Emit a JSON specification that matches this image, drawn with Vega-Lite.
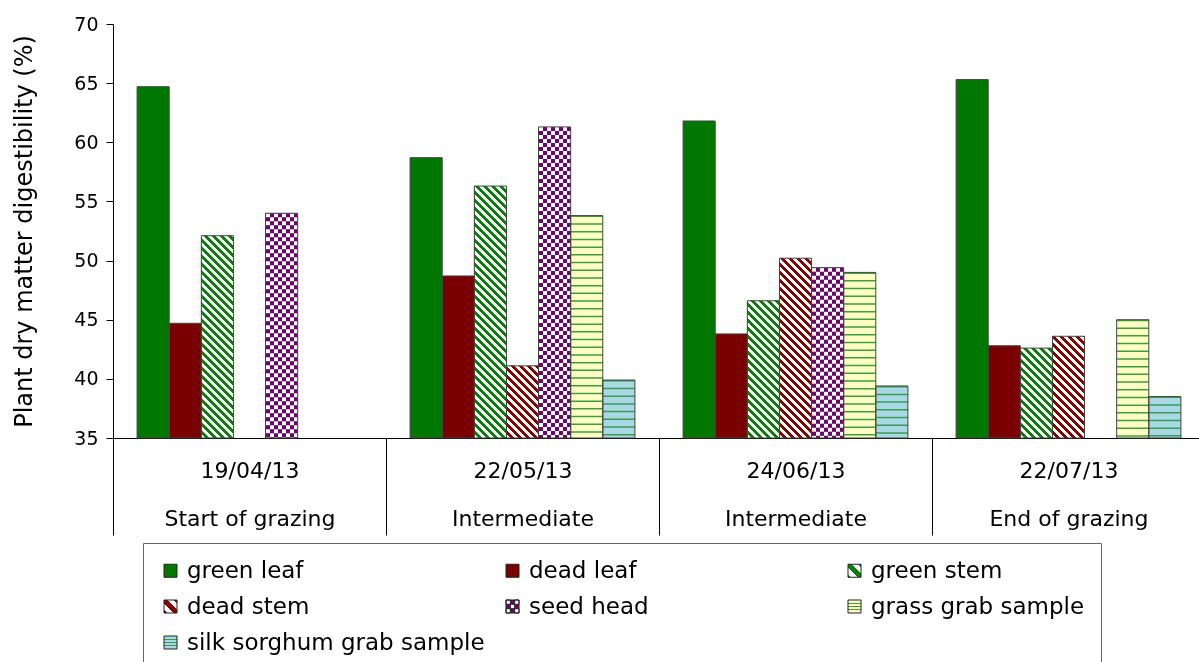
{
  "$schema": "https://vega.github.io/schema/vega-lite/v6.json",
  "width": 1086,
  "height": 414,
  "autosize": {"type": "none"},
  "padding": {"left": 113, "top": 24, "right": 0, "bottom": 224},
  "background": "#ffffff",
  "config": {"font": "DejaVu Sans", "view": {"stroke": null}, "axis": {"grid": false}},
  "params": [
    {"name": "dstops", "expr": "[{offset:0,color:'#fff'},{offset:4.5/288,color:'#fff'},{offset:4.5/288,color:'#000'},{offset:8/288,color:'#000'},{offset:8/288,color:'#fff'},{offset:12.5/288,color:'#fff'},{offset:12.5/288,color:'#000'},{offset:16/288,color:'#000'},{offset:16/288,color:'#fff'},{offset:20.5/288,color:'#fff'},{offset:20.5/288,color:'#000'},{offset:24/288,color:'#000'},{offset:24/288,color:'#fff'},{offset:28.5/288,color:'#fff'},{offset:28.5/288,color:'#000'},{offset:32/288,color:'#000'},{offset:32/288,color:'#fff'},{offset:36.5/288,color:'#fff'},{offset:36.5/288,color:'#000'},{offset:40/288,color:'#000'},{offset:40/288,color:'#fff'},{offset:44.5/288,color:'#fff'},{offset:44.5/288,color:'#000'},{offset:48/288,color:'#000'},{offset:48/288,color:'#fff'},{offset:52.5/288,color:'#fff'},{offset:52.5/288,color:'#000'},{offset:56/288,color:'#000'},{offset:56/288,color:'#fff'},{offset:60.5/288,color:'#fff'},{offset:60.5/288,color:'#000'},{offset:64/288,color:'#000'},{offset:64/288,color:'#fff'},{offset:68.5/288,color:'#fff'},{offset:68.5/288,color:'#000'},{offset:72/288,color:'#000'},{offset:72/288,color:'#fff'},{offset:76.5/288,color:'#fff'},{offset:76.5/288,color:'#000'},{offset:80/288,color:'#000'},{offset:80/288,color:'#fff'},{offset:84.5/288,color:'#fff'},{offset:84.5/288,color:'#000'},{offset:88/288,color:'#000'},{offset:88/288,color:'#fff'},{offset:92.5/288,color:'#fff'},{offset:92.5/288,color:'#000'},{offset:96/288,color:'#000'},{offset:96/288,color:'#fff'},{offset:100.5/288,color:'#fff'},{offset:100.5/288,color:'#000'},{offset:104/288,color:'#000'},{offset:104/288,color:'#fff'},{offset:108.5/288,color:'#fff'},{offset:108.5/288,color:'#000'},{offset:112/288,color:'#000'},{offset:112/288,color:'#fff'},{offset:116.5/288,color:'#fff'},{offset:116.5/288,color:'#000'},{offset:120/288,color:'#000'},{offset:120/288,color:'#fff'},{offset:124.5/288,color:'#fff'},{offset:124.5/288,color:'#000'},{offset:128/288,color:'#000'},{offset:128/288,color:'#fff'},{offset:132.5/288,color:'#fff'},{offset:132.5/288,color:'#000'},{offset:136/288,color:'#000'},{offset:136/288,color:'#fff'},{offset:140.5/288,color:'#fff'},{offset:140.5/288,color:'#000'},{offset:144/288,color:'#000'},{offset:144/288,color:'#fff'},{offset:148.5/288,color:'#fff'},{offset:148.5/288,color:'#000'},{offset:152/288,color:'#000'},{offset:152/288,color:'#fff'},{offset:156.5/288,color:'#fff'},{offset:156.5/288,color:'#000'},{offset:160/288,color:'#000'},{offset:160/288,color:'#fff'},{offset:164.5/288,color:'#fff'},{offset:164.5/288,color:'#000'},{offset:168/288,color:'#000'},{offset:168/288,color:'#fff'},{offset:172.5/288,color:'#fff'},{offset:172.5/288,color:'#000'},{offset:176/288,color:'#000'},{offset:176/288,color:'#fff'},{offset:180.5/288,color:'#fff'},{offset:180.5/288,color:'#000'},{offset:184/288,color:'#000'},{offset:184/288,color:'#fff'},{offset:188.5/288,color:'#fff'},{offset:188.5/288,color:'#000'},{offset:192/288,color:'#000'},{offset:192/288,color:'#fff'},{offset:196.5/288,color:'#fff'},{offset:196.5/288,color:'#000'},{offset:200/288,color:'#000'},{offset:200/288,color:'#fff'},{offset:204.5/288,color:'#fff'},{offset:204.5/288,color:'#000'},{offset:208/288,color:'#000'},{offset:208/288,color:'#fff'},{offset:212.5/288,color:'#fff'},{offset:212.5/288,color:'#000'},{offset:216/288,color:'#000'},{offset:216/288,color:'#fff'},{offset:220.5/288,color:'#fff'},{offset:220.5/288,color:'#000'},{offset:224/288,color:'#000'},{offset:224/288,color:'#fff'},{offset:228.5/288,color:'#fff'},{offset:228.5/288,color:'#000'},{offset:232/288,color:'#000'},{offset:232/288,color:'#fff'},{offset:236.5/288,color:'#fff'},{offset:236.5/288,color:'#000'},{offset:240/288,color:'#000'},{offset:240/288,color:'#fff'},{offset:244.5/288,color:'#fff'},{offset:244.5/288,color:'#000'},{offset:248/288,color:'#000'},{offset:248/288,color:'#fff'},{offset:252.5/288,color:'#fff'},{offset:252.5/288,color:'#000'},{offset:256/288,color:'#000'},{offset:256/288,color:'#fff'},{offset:260.5/288,color:'#fff'},{offset:260.5/288,color:'#000'},{offset:264/288,color:'#000'},{offset:264/288,color:'#fff'},{offset:268.5/288,color:'#fff'},{offset:268.5/288,color:'#000'},{offset:272/288,color:'#000'},{offset:272/288,color:'#fff'},{offset:276.5/288,color:'#fff'},{offset:276.5/288,color:'#000'},{offset:280/288,color:'#000'},{offset:280/288,color:'#fff'},{offset:284.5/288,color:'#fff'},{offset:284.5/288,color:'#000'},{offset:1,color:'#000'}]"}
  ],
  "data": {"values": [
    {"date": "19/04/13", "series": "green leaf", "value": 64.7},
    {"date": "19/04/13", "series": "dead leaf", "value": 44.7},
    {"date": "19/04/13", "series": "green stem", "value": 52.1},
    {"date": "19/04/13", "series": "seed head", "value": 54.0},
    {"date": "22/05/13", "series": "green leaf", "value": 58.7},
    {"date": "22/05/13", "series": "dead leaf", "value": 48.7},
    {"date": "22/05/13", "series": "green stem", "value": 56.3},
    {"date": "22/05/13", "series": "dead stem", "value": 41.1},
    {"date": "22/05/13", "series": "seed head", "value": 61.3},
    {"date": "22/05/13", "series": "grass grab sample", "value": 53.8},
    {"date": "22/05/13", "series": "silk sorghum grab sample", "value": 39.9},
    {"date": "24/06/13", "series": "green leaf", "value": 61.8},
    {"date": "24/06/13", "series": "dead leaf", "value": 43.8},
    {"date": "24/06/13", "series": "green stem", "value": 46.6},
    {"date": "24/06/13", "series": "dead stem", "value": 50.2},
    {"date": "24/06/13", "series": "seed head", "value": 49.4},
    {"date": "24/06/13", "series": "grass grab sample", "value": 49.0},
    {"date": "24/06/13", "series": "silk sorghum grab sample", "value": 39.4},
    {"date": "22/07/13", "series": "green leaf", "value": 65.3},
    {"date": "22/07/13", "series": "dead leaf", "value": 42.8},
    {"date": "22/07/13", "series": "green stem", "value": 42.6},
    {"date": "22/07/13", "series": "dead stem", "value": 43.6},
    {"date": "22/07/13", "series": "grass grab sample", "value": 45.0},
    {"date": "22/07/13", "series": "silk sorghum grab sample", "value": 38.5}
  ]},
  "encoding": {
    "x": {
      "field": "date", "type": "nominal",
      "sort": ["19/04/13", "22/05/13", "24/06/13", "22/07/13"],
      "scale": {"range": [0, 1092], "paddingInner": 0, "paddingOuter": 0},
      "axis": {
        "title": null, "labelAngle": 0, "labelFontSize": 22, "labelLineHeight": 48,
        "labelPadding": -75, "labelColor": "#000", "labelLimit": 300,
        "tickSize": 97, "tickBand": "extent", "tickColor": "#000", "domainColor": "#000",
        "labelExpr": "datum.value === '19/04/13' ? ['19/04/13', 'Start of grazing'] : (datum.value === '22/05/13' || datum.value === '24/06/13') ? [datum.value, 'Intermediate'] : datum.value === '22/07/13' ? ['22/07/13', 'End of grazing'] : ''"
      }
    },
    "xOffset": {
      "field": "series", "type": "nominal",
      "sort": ["green leaf", "dead leaf", "green stem", "dead stem", "seed head", "grass grab sample", "silk sorghum grab sample"],
      "scale": {"domain": ["green leaf", "dead leaf", "green stem", "dead stem", "seed head", "grass grab sample", "silk sorghum grab sample"], "paddingInner": 0, "paddingOuter": 0.75}
    },
    "y": {
      "field": "value", "type": "quantitative",
      "scale": {"domain": [35, 70], "nice": false, "zero": false},
      "axis": {
        "values": [35, 40, 45, 50, 55, 60, 65, 70],
        "labelFontSize": 19, "labelColor": "#000", "labelPadding": 8,
        "tickSize": 7, "tickColor": "#000", "domainColor": "#000",
        "title": "Plant dry matter digestibility (%)", "titleFontSize": 24,
        "titleFontWeight": "normal", "titleColor": "#000", "titlePadding": 37
      }
    },
    "y2": {"datum": 35}
  },
  "layer": [
    {
      "transform": [{"filter": "datum.series !== 'grass grab sample' && datum.series !== 'silk sorghum grab sample'"}],
      "mark": {"type": "bar", "strokeWidth": 0},
      "encoding": {
        "fill": {
          "field": "series", "type": "nominal",
          "scale": {
            "domain": ["green leaf", "dead leaf", "green stem", "dead stem", "seed head", "grass grab sample", "silk sorghum grab sample"],
            "range": [
              "#007800",
              "#7a0000",
              {"expr": "{gradient:'linear',x1:0,y1:1,x2:1,y2:0,stops:[{offset:0,color:'#0a800a'},{offset:0.12,color:'#0a800a'},{offset:0.12,color:'#fff'},{offset:0.37,color:'#fff'},{offset:0.37,color:'#0a800a'},{offset:0.63,color:'#0a800a'},{offset:0.63,color:'#fff'},{offset:0.88,color:'#fff'},{offset:0.88,color:'#0a800a'},{offset:1,color:'#0a800a'}]}"},
              {"expr": "{gradient:'linear',x1:0,y1:1,x2:1,y2:0,stops:[{offset:0,color:'#880000'},{offset:0.12,color:'#880000'},{offset:0.12,color:'#fff'},{offset:0.37,color:'#fff'},{offset:0.37,color:'#880000'},{offset:0.63,color:'#880000'},{offset:0.63,color:'#fff'},{offset:0.88,color:'#fff'},{offset:0.88,color:'#880000'},{offset:1,color:'#880000'}]}"},
              "#730073",
              {"expr": "{gradient:'linear',x1:0.5,y1:0,x2:0.5,y2:1,stops:[{offset:0,color:'#ffffc4'},{offset:0.22,color:'#ffffc4'},{offset:0.22,color:'#3e9e3e'},{offset:0.32,color:'#3e9e3e'},{offset:0.32,color:'#ffffc4'},{offset:0.45,color:'#ffffc4'},{offset:0.45,color:'#3e9e3e'},{offset:0.55,color:'#3e9e3e'},{offset:0.55,color:'#ffffc4'},{offset:0.68,color:'#ffffc4'},{offset:0.68,color:'#3e9e3e'},{offset:0.78,color:'#3e9e3e'},{offset:0.78,color:'#ffffc4'},{offset:1,color:'#ffffc4'}]}"},
              {"expr": "{gradient:'linear',x1:0.5,y1:0,x2:0.5,y2:1,stops:[{offset:0,color:'#a8d8e4'},{offset:0.22,color:'#a8d8e4'},{offset:0.22,color:'#3a9a50'},{offset:0.32,color:'#3a9a50'},{offset:0.32,color:'#a8d8e4'},{offset:0.45,color:'#a8d8e4'},{offset:0.45,color:'#3a9a50'},{offset:0.55,color:'#3a9a50'},{offset:0.55,color:'#a8d8e4'},{offset:0.68,color:'#a8d8e4'},{offset:0.68,color:'#3a9a50'},{offset:0.78,color:'#3a9a50'},{offset:0.78,color:'#a8d8e4'},{offset:1,color:'#a8d8e4'}]}"}
            ]
          },
          "legend": {
            "orient": "none", "legendX": 30, "legendY": 519, "columns": 3, "direction": "horizontal", "title": null,
            "padding": 16, "strokeColor": "#666", "fillColor": "#ffffff",
            "symbolType": "square", "symbolSize": 169, "symbolStrokeWidth": 1, "symbolStrokeColor": "#222",
            "labelFont": "DejaVu Sans", "labelFontSize": 23, "labelColor": "#000", "labelOffset": 5, "labelLimit": 400,
            "columnPadding": 16, "rowPadding": 12, "gridAlign": "all",
            "encode": {
              "symbols": {
                "update": {
                  "stroke": {"value": "#222"},
                  "strokeWidth": {"value": 1},
                  "shape": {"signal": "datum.value === 'seed head' ? 'M-1,-1H1V1H-1Z M-1,-1V-0.333H-0.333V-1Z M0.333,-1V-0.333H1V-1Z M-0.333,-0.333V0.333H0.333V-0.333Z M-1,0.333V1H-0.333V0.333Z M0.333,0.333V1H1V0.333Z' : 'square'"}
                }
              }
            }
          }
        }
      }
    },
    {
      "transform": [{"filter": "datum.series === 'grass grab sample' || datum.series === 'silk sorghum grab sample'"}],
      "mark": {"type": "bar", "strokeWidth": 0},
      "encoding": {
        "fill": {"condition": {"test": "datum.series === 'grass grab sample'", "value": "#ffffc4"}, "value": "#a8d8e4"}
      }
    },
    {
      "transform": [{"filter": "datum.series === 'green stem' || datum.series === 'dead stem'"}],
      "mark": {"type": "bar", "strokeWidth": 0},
      "encoding": {
        "fill": {"value": {"expr": "{gradient:'linear',x1:0,y1:1,x2:288*32.118/(1031.57+pow((datum.value-35)*414/35,2)),y2:1-288*((datum.value-35)*414/35)/(1031.57+pow((datum.value-35)*414/35,2)),stops:dstops}"}}
      }
    },
    {
      "transform": [{"filter": "datum.series === 'green stem' || datum.series === 'dead stem'"}],
      "mark": {"type": "bar", "strokeWidth": 0, "blend": "lighten"},
      "encoding": {
        "fill": {"condition": {"test": "datum.series === 'green stem'", "value": "#0a800a"}, "value": "#880000"}
      }
    },
    {
      "transform": [{"filter": "datum.series === 'seed head'"}],
      "mark": {
        "type": "bar", "strokeWidth": 0,
        "fill": {"gradient": "linear", "x1": 0, "y1": 0, "x2": 1, "y2": 0, "stops": [
          {"offset": 0, "color": "#000"}, {"offset": 0.125, "color": "#000"},
          {"offset": 0.125, "color": "#fff"}, {"offset": 0.25, "color": "#fff"},
          {"offset": 0.25, "color": "#000"}, {"offset": 0.375, "color": "#000"},
          {"offset": 0.375, "color": "#fff"}, {"offset": 0.5, "color": "#fff"},
          {"offset": 0.5, "color": "#000"}, {"offset": 0.625, "color": "#000"},
          {"offset": 0.625, "color": "#fff"}, {"offset": 0.75, "color": "#fff"},
          {"offset": 0.75, "color": "#000"}, {"offset": 0.875, "color": "#000"},
          {"offset": 0.875, "color": "#fff"}, {"offset": 1, "color": "#fff"}
        ]}
      }
    },
    {
      "transform": [{"filter": "datum.series === 'seed head'"}],
      "mark": {"type": "rule", "stroke": "#ffffff", "strokeWidth": 32.118, "strokeDash": [4, 4], "blend": "difference"}
    },
    {
      "transform": [{"filter": "datum.series === 'seed head'"}],
      "mark": {"type": "bar", "strokeWidth": 0, "fill": "#730073", "blend": "lighten"}
    },
    {
      "transform": [{"filter": "datum.series === 'grass grab sample' || datum.series === 'silk sorghum grab sample'"}],
      "mark": {"type": "rule", "strokeWidth": 32.118, "strokeDash": [1.5, 6.2]},
      "encoding": {
        "stroke": {"condition": {"test": "datum.series === 'grass grab sample'", "value": "#3e9e3e"}, "value": "#3a9a50"}
      }
    },
    {
      "mark": {"type": "bar", "fill": "transparent", "stroke": "#444", "strokeWidth": 1}
    }
  ]
}
